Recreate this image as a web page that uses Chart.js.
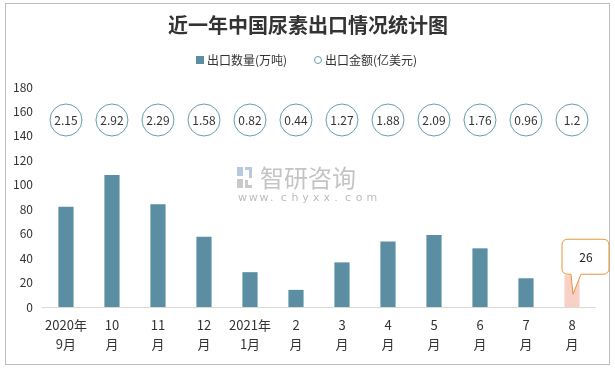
<!DOCTYPE html>
<html>
<head>
<meta charset="utf-8">
<script src="https://cdn.jsdelivr.net/npm/chart.js@4.4.0/dist/chart.umd.min.js"></script>
<style>
  html, body { margin: 0; padding: 0; background: #fff; }
  #wrap { width: 615px; height: 369px; }
</style>
</head>
<body>
<div id="wrap"><canvas id="myChart" width="615" height="369"></canvas></div>
<script>
'use strict';

// data
const categories = [
    ['2020年', '9月'], ['10', '月'], ['11', '月'], ['12', '月'],
    ['2021年', '1月'], ['2', '月'], ['3', '月'], ['4', '月'],
    ['5', '月'], ['6', '月'], ['7', '月'], ['8', '月']
];
const exportVolume = [82, 108, 84, 57.5, 28.5, 14, 36.5, 53.5, 59, 48, 23.5, 26];   // 万吨
const exportValue = [2.15, 2.92, 2.29, 1.58, 0.82, 0.44, 1.27, 1.88, 2.09, 1.76, 0.96, 1.2]; // 亿美元
const yMin = 0;
const yMax = 180;
const yStep = 20;

const titleText = '近一年中国尿素出口情况统计图';
const volumeLabel = '出口数量(万吨)';
const valueLabel = '出口金额(亿美元)';

// the amount circles sit in one row above the bars
const circleRow = 153;

const barColor = '#5b8ea3';
const lastBarColor = '#f8d0c6';
const circleColor = '#6a9cb0';
const calloutColor = '#e8953a';
const textColor = '#333333';

Chart.defaults.font.family = '"Noto Sans CJK SC", "Noto Sans", sans-serif';
Chart.defaults.color = textColor;

let barColors = [];
for (let i = 0; i < exportVolume.length; i++) {
    barColors[i] = i === exportVolume.length - 1 ? lastBarColor : barColor;
}

//extra drawing: frame, title, legend, watermark, circle texts, callout
const extras = {
    id: 'extras',
    beforeDraw(chart) {
        let ctx = chart.ctx;
        ctx.save();
        ctx.fillStyle = '#fff';
        ctx.fillRect(0, 0, chart.width, chart.height);
        ctx.strokeStyle = '#bdbdbd';
        ctx.lineWidth = 1;
        ctx.strokeRect(5.5, 3.5, 604, 361);

        // watermark
        ctx.fillStyle = '#b9c9dc';
        ctx.fillRect(237, 167, 6, 9);
        ctx.fillRect(245, 167, 7, 3);
        ctx.fillRect(249, 170, 3, 8);
        ctx.fillStyle = '#c9c9c9';
        ctx.fillRect(237, 179, 6, 9);
        ctx.fillRect(245, 180, 3, 8);
        ctx.fillRect(245, 185, 7, 3);
        ctx.fillStyle = '#c4c4c4';
        ctx.font = '24px "Noto Sans CJK SC"';
        ctx.textBaseline = 'middle';
        ctx.textAlign = 'left';
        ctx.fillText('智研咨询', 260, 178);
        ctx.font = '11px "DejaVu Sans"';
        ctx.fillStyle = '#bcbcbc';
        let site = 'www.chyxx.com';
        for (let i = 0; i < site.length; i++) {
            ctx.fillText(site[i], 238 + i * 10.7, 198);
        }
        ctx.restore();
    },
    afterDraw(chart) {
        let ctx = chart.ctx;
        ctx.save();

        // title
        ctx.fillStyle = textColor;
        ctx.font = 'bold 20px "Noto Sans CJK SC"';
        ctx.textAlign = 'center';
        ctx.textBaseline = 'middle';
        ctx.fillText(titleText, 308, 25);

        // legend
        ctx.font = '12px "Noto Sans CJK SC"';
        ctx.textAlign = 'left';
        ctx.fillStyle = barColor;
        ctx.fillRect(196, 56, 8, 8);
        ctx.fillStyle = textColor;
        ctx.fillText(volumeLabel, 207, 60);
        ctx.beginPath();
        ctx.arc(318, 60, 3.5, 0, Math.PI * 2);
        ctx.strokeStyle = circleColor;
        ctx.lineWidth = 1;
        ctx.stroke();
        ctx.fillText(valueLabel, 325, 60);

        // amount texts inside the circles
        let pts = chart.getDatasetMeta(1).data;
        ctx.font = '12px "Noto Sans CJK SC"';
        ctx.textAlign = 'center';
        for (let i = 0; i < pts.length; i++) {
            ctx.fillText(String(exportValue[i]), pts[i].x, pts[i].y);
        }

        // callout on last bar
        let bars = chart.getDatasetMeta(0).data;
        let last = bars[bars.length - 1];
        let bx = last.x;
        let by = last.y;
        let left = bx - 10, right = bx + 37, top = by - 36, bottom = by - 1, r = 6;
        ctx.beginPath();
        ctx.moveTo(left + r, top);
        ctx.lineTo(right - r, top);
        ctx.quadraticCurveTo(right, top, right, top + r);
        ctx.lineTo(right, bottom - r);
        ctx.quadraticCurveTo(right, bottom, right - r, bottom);
        ctx.lineTo(bx + 9, bottom);
        ctx.lineTo(bx + 1, by + 19);
        ctx.lineTo(bx - 1, bottom);
        ctx.lineTo(left + r, bottom);
        ctx.quadraticCurveTo(left, bottom, left, bottom - r);
        ctx.lineTo(left, top + r);
        ctx.quadraticCurveTo(left, top, left + r, top);
        ctx.closePath();
        ctx.fillStyle = '#fff';
        ctx.fill();
        ctx.strokeStyle = calloutColor;
        ctx.lineWidth = 1;
        ctx.stroke();
        ctx.fillStyle = '#222';
        ctx.fillText(String(exportVolume[exportVolume.length - 1]), bx + 14, top + 18);

        ctx.restore();
    }
};

let data = {
    labels: categories,
    datasets: [{
        type: 'bar',
        label: volumeLabel,
        data: exportVolume,
        backgroundColor: barColors,
        barPercentage: 0.33,
        categoryPercentage: 1,
        order: 2
    }, {
        type: 'line',
        label: valueLabel,
        data: exportValue.map(() => circleRow),
        showLine: false,
        pointRadius: 16,
        pointBorderWidth: 1,
        pointBorderColor: circleColor,
        pointBackgroundColor: '#fff',
        order: 1
    }]
};

let config = {
    type: 'bar',
    data,
    options: {
        responsive: false,
        animation: false,
        layout: {
            padding: { top: 87, left: 3, right: 20, bottom: 7 }
        },
        plugins: {
            legend: { display: false },
            title: { display: false },
            tooltip: { enabled: false }
        },
        scales: {
            x: {
                grid: { display: false, drawTicks: false },
                border: { color: '#d9d9d9' },
                ticks: {
                    color: textColor,
                    font: { size: 13, lineHeight: 1.5 },
                    padding: 8,
                    maxRotation: 0,
                    autoSkip: false
                }
            },
            y: {
                min: yMin,
                max: yMax,
                grid: { display: false, drawTicks: false },
                border: { display: false },
                ticks: {
                    stepSize: yStep,
                    color: textColor,
                    font: { size: 12 },
                    padding: 10
                }
            }
        }
    },
    plugins: [extras]
};

let myChart = new Chart(document.getElementById('myChart'), config);
</script>
</body>
</html>
